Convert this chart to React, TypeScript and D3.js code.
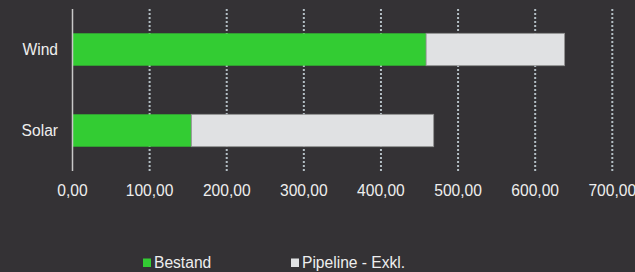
import React from "react";
import * as d3 from "d3";

const categories = ["Wind", "Solar"];
const bestand = [458.5, 154];
const pipeline = [179.7, 314.4];
const tickValues = [0, 100, 200, 300, 400, 500, 600, 700];
const seriesNames = ["Bestand", "Pipeline - Exkl."];
const seriesColors = ["#33cc33", "#e0e1e3"];

const W = 635;
const H = 272;
const FONT = "Arial, 'Liberation Sans', sans-serif";
const FS = 15.6;

export default function App() {
  const x = d3.scaleLinear().domain([0, 700]).range([72.5, 612.3]);
  const y = d3
    .scaleBand<string>()
    .domain(categories)
    .range([9, 171])
    .paddingInner(0.6)
    .paddingOuter(0.3);
  const fmt = (v: number) => d3.format(".2f")(v).replace(".", ",");

  return (
    <svg
      width={W}
      height={H}
      style={{ position: "absolute", left: 0, top: 0, background: "#343235" }}
    >
      <rect x={0} y={0} width={W} height={H} fill="#343235" />
      {tickValues
        .filter((t) => t > 0)
        .map((t) => (
          <line
            key={t}
            x1={x(t)}
            x2={x(t)}
            y1={9}
            y2={171}
            stroke="#b3bec4"
            strokeWidth={2}
            strokeDasharray="2,2"
          />
        ))}
      {categories.map((c, i) => {
        const y0 = y(c)!;
        const bw = y.bandwidth();
        return (
          <g key={c}>
            <rect
              x={x(0)}
              y={y0}
              width={x(bestand[i]) - x(0)}
              height={bw}
              fill={seriesColors[0]}
            />
            <rect
              x={x(bestand[i])}
              y={y0}
              width={x(bestand[i] + pipeline[i]) - x(bestand[i])}
              height={bw}
              fill={seriesColors[1]}
              stroke="#8c8c8c"
              strokeWidth={0.8}
            />
            <text
              x={58}
              y={y0 + bw / 2}
              dy="0.35em"
              textAnchor="end"
              fill="#eeeeee"
              fontSize={FS}
              fontFamily={FONT}
            >
              {c}
            </text>
          </g>
        );
      })}
      <line x1={x(0)} x2={x(0)} y1={9} y2={171} stroke="#c8c8c8" strokeWidth={1.5} />
      {tickValues.map((t) => (
        <text
          key={t}
          x={x(t)}
          y={196}
          textAnchor="middle"
          fill="#eeeeee"
          fontSize={FS}
          fontFamily={FONT}
        >
          {fmt(t)}
        </text>
      ))}
      {seriesNames.map((s, i) => {
        const lx = [143, 291][i];
        return (
          <g key={s}>
            <rect x={lx} y={258.5} width={8} height={8.5} fill={seriesColors[i]} />
            <text x={lx + 11} y={267.5} fill="#eeeeee" fontSize={FS} fontFamily={FONT}>
              {s}
            </text>
          </g>
        );
      })}
    </svg>
  );
}
